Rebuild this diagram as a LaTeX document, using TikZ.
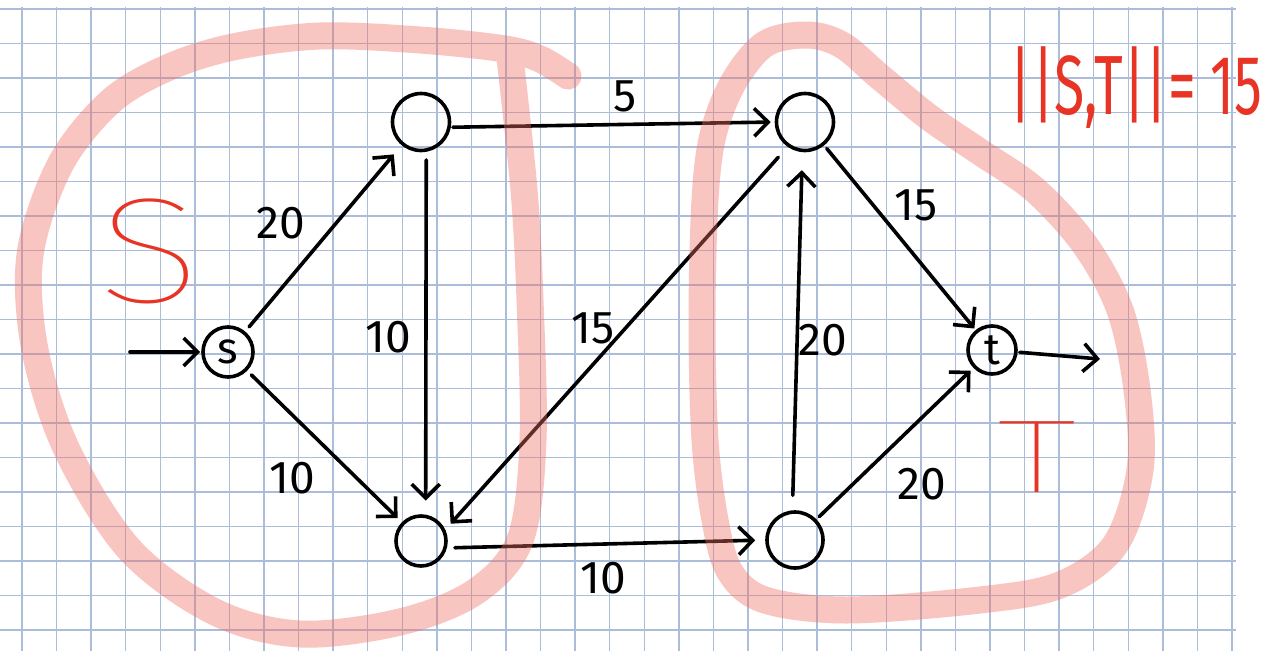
\documentclass[tikz,border=0pt]{standalone}
\usepackage{fontspec}
\usepackage{graphicx}
\setmainfont{Fira Sans}
\newfontfamily\thinfont{Fira Sans Thin}
\newfontfamily\lightfont{Fira Sans}
\usetikzlibrary{arrows.meta}
\definecolor{gridc}{RGB}{172,189,218}
\definecolor{pinkc}{RGB}{240,110,100}
\definecolor{redc}{RGB}{232,52,36}
\begin{document}
\begin{tikzpicture}[x=1pt,y=-1pt,
  gridline/.style={gridc, line width=1.5pt},
  vtx/.style={circle, draw=black, line width=3.6pt, inner sep=0pt, font=\fontsize{44}{44}\selectfont},
  edge/.style={line width=3.6pt, line cap=round, -{Straight Barb[length=14pt,width=28pt]}},
  lbl/.style={font=\fontsize{46}{46}\selectfont, inner sep=0pt},
  band/.style={draw=pinkc, draw opacity=0.4, line width=27pt, line cap=round, line join=round},
  redtxt/.style={text=redc, inner sep=0pt}
]
\useasboundingbox (0,0) rectangle (1278,651);
\fill[white] (0,0) rectangle (1278,651);
% grid paper
\foreach \i in {0,...,35} \draw[gridline] ({22+\i*34.57},7) -- ({22+\i*34.57},651);
\foreach \j in {0,...,18} \draw[gridline] (0,{9+\j*34.5}) -- (1236,{9+\j*34.5});

% vertices
\node[vtx, minimum size=50pt] (s) at (228,352) {s};
\node[vtx, minimum size=57pt] (A) at (421,122) {};
\node[vtx, minimum size=50pt] (B) at (421,541) {};
\node[vtx, minimum size=57pt] (C) at (805,122) {};
\node[vtx, minimum size=56pt] (D) at (795,540) {};
\node[vtx, minimum size=48pt] (t) at (992,350) {t};
\coordinate (in) at (130,352);
\coordinate (out) at (1100,359);

% edges
\draw[edge, shorten >=1pt] (in) -- (s);
\draw[edge, shorten <=6pt, shorten >=12pt] (s) -- (A);
\draw[edge, shorten <=6pt, shorten >=6pt] (s) -- (B);
\draw[edge, shorten <=2pt, shorten >=4pt] (A.-10) -- (C.180);
\draw[edge, shorten <=8pt, shorten >=14pt] (A.-80) -- (B.80);
\draw[edge, shorten <=14pt, shorten >=8pt] (C.235) -- (B.25);
\draw[edge, shorten <=8pt, shorten >=10pt] (B.-15) -- (D.180);
\draw[edge, shorten <=15pt, shorten >=18pt] (D.95) -- (C.-95);
\draw[edge, shorten <=4pt, shorten >=2pt] (C) -- (t);
\draw[edge, shorten <=4pt, shorten >=4pt] (D) -- (t);
\draw[edge, shorten <=2pt] (t) -- (out);

% capacities
\node[lbl] (l1) at (281,223) {20};
\node[lbl] (l2) at (292,478) {10};
\node[lbl] (l3) at (388,337) {10};
\node[lbl] (l4) at (625,96) {5};
\node[lbl] (l5) at (593,328) {15};
\node[lbl] (l6) at (603,578) {10};
\node[lbl] (l7) at (823,340) {20};
\node[lbl] (l8) at (916,205) {15};
\node[lbl] (l9) at (922,484) {20};

% cut regions
\draw[band] plot[smooth, tension=0.55] coordinates {(568,76) (540,59) (505,49) (420,40) (320,36) (233,47) (167,68) (110,102) (60,165) (30,255) (35,350) (67,450) (130,550) (215,612) (300,634) (400,622) (475,592) (520,540) (533,440) (530,300) (524,190) (510,58)};
\draw[band] plot[smooth cycle, tension=0.55] coordinates {(807,35) (842,45) (880,77) (930,118) (980,152) (1035,190) (1085,245) (1120,310) (1137,390) (1140,470) (1115,545) (1060,585) (980,600) (847,610) (765,600) (730,572) (715,520) (705,440) (702,320) (705,200) (713,135) (733,83) (765,44)};

% red annotations
\node[redtxt, font=\thinfont\fontsize{150}{150}\selectfont] (bigS) at (150,251) {\scalebox{1.3}[1]{S}};
\node[redtxt, font=\thinfont\fontsize{104}{104}\selectfont] (bigT) at (1037,457) {\scalebox{1.6}[1]{T}};
\node[redtxt, font=\lightfont\fontsize{84}{84}\selectfont] (cut) at (1136,88) {\scalebox{0.66}[1]{||S,T||= 15}};
\end{tikzpicture}
\end{document}
